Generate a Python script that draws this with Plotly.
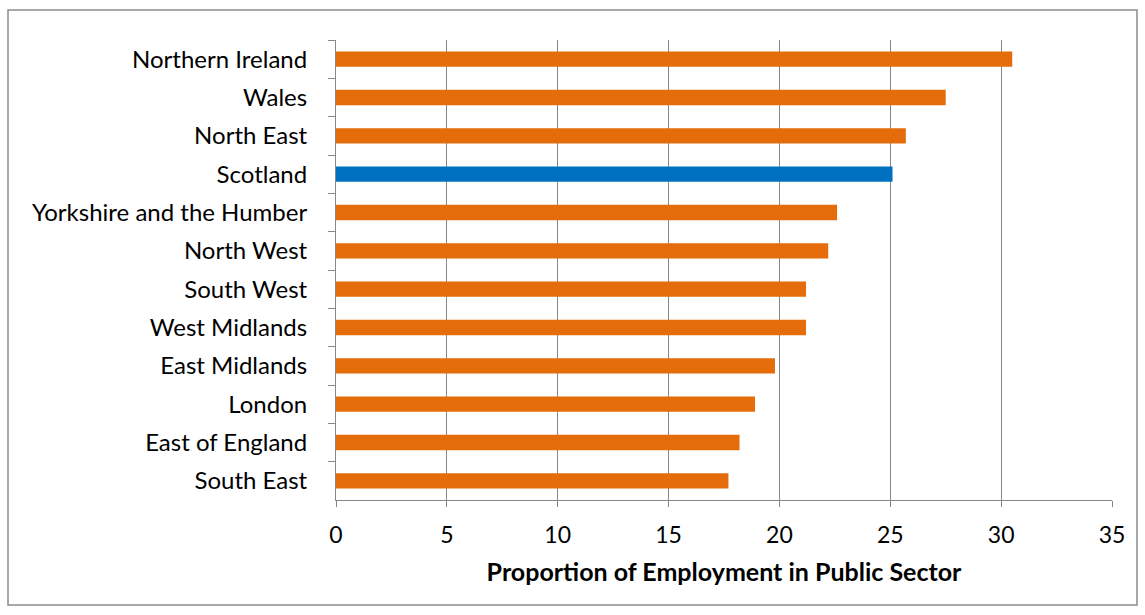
import plotly.graph_objects as go

regions = ["Northern Ireland", "Wales", "North East", "Scotland",
           "Yorkshire and the Humber", "North West", "South West",
           "West Midlands", "East Midlands", "London", "East of England",
           "South East"]
values = [30.5, 27.5, 25.7, 25.1, 22.6, 22.2, 21.2, 21.2, 19.8, 18.9, 18.2, 17.7]
highlight = "Scotland"
x_ticks = [0, 5, 10, 15, 20, 25, 30, 35]
x_title = "Proportion of Employment in Public Sector"

ORANGE = "#E46C0A"
BLUE = "#0070C0"
colors = [BLUE if r == highlight else ORANGE for r in regions]

W, H = 1145, 615
ml, mr, mt, mb = 336, 33, 40, 115
pw, ph = W - ml - mr, H - mt - mb

fig = go.Figure(go.Bar(
    x=values, y=regions, orientation="h",
    marker=dict(color=colors, line=dict(width=0)),
    width=0.4,
))

font_family = "Lato, 'Open Sans', sans-serif"
fig.update_layout(
    width=W, height=H,
    margin=dict(l=ml, r=mr, t=mt, b=mb, pad=0),
    paper_bgcolor="white", plot_bgcolor="white",
    font=dict(family=font_family, size=24, color="black"),
    showlegend=False,
    xaxis=dict(
        range=[0, 35], tickvals=x_ticks, showgrid=True, gridcolor="#888888",
        gridwidth=1.2, zeroline=False, showline=True, linecolor="#888888",
        linewidth=1, ticks="outside", ticklen=6, tickcolor="#888888",
        tickfont=dict(size=23), ticklabelstandoff=8,
        title=dict(text="<b>" + x_title + "</b>", font=dict(size=25), standoff=16),
    ),
    yaxis=dict(
        categoryorder="array", categoryarray=regions, autorange="reversed",
        showgrid=False, showline=True, linecolor="#888888", linewidth=1,
        ticks="outside", tickson="boundaries", ticklen=7, tickcolor="#888888",
        tickfont=dict(size=24), ticklabelstandoff=23,
    ),
    shapes=[dict(
        type="rect", xref="paper", yref="paper",
        x0=(8 - ml) / pw, x1=(1137 - ml) / pw,
        y0=1 - (605 - mt) / ph, y1=1 - (10 - mt) / ph,
        line=dict(color="#8c8c8c", width=1.5), fillcolor="rgba(0,0,0,0)",
        layer="below",
    )],
)

fig.write_html("out.html")
